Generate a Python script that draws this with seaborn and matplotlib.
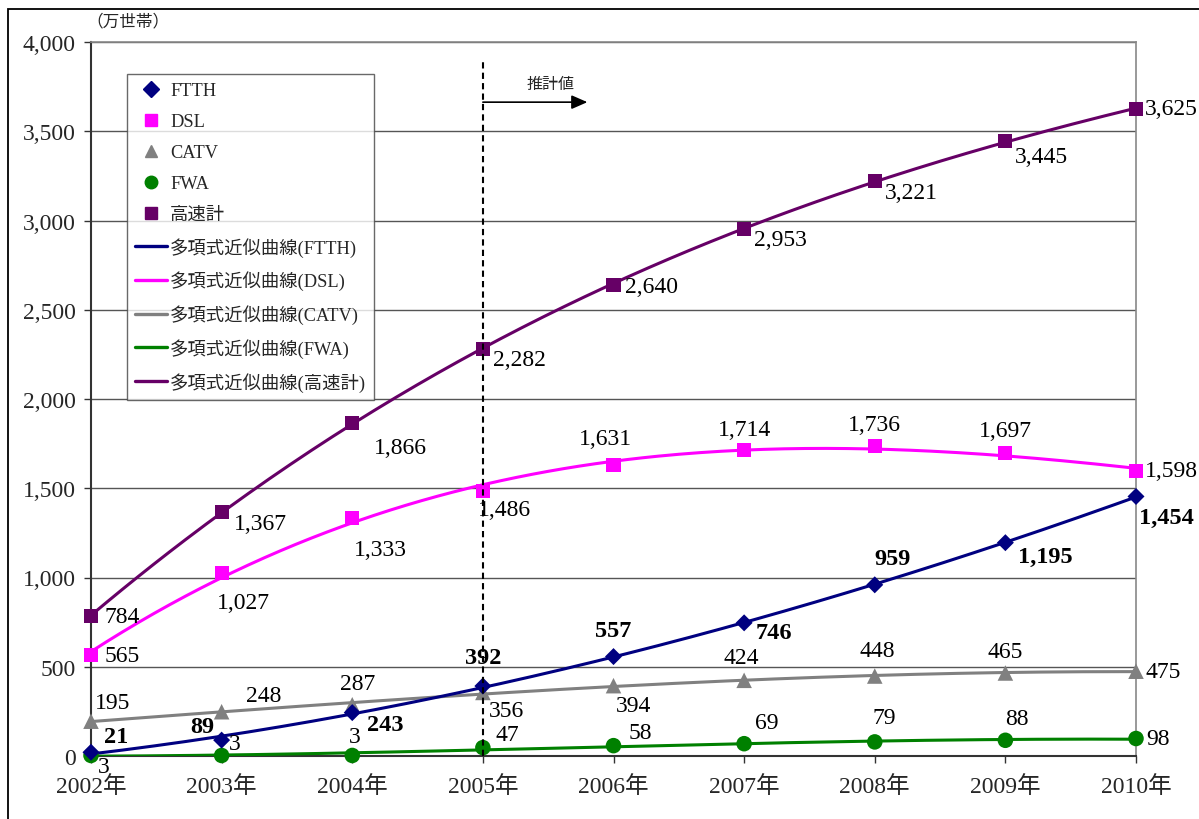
import numpy as np
import pandas as pd
import matplotlib
matplotlib.use("Agg")
import matplotlib.pyplot as plt
from matplotlib.lines import Line2D
from matplotlib.patches import Rectangle
import seaborn as sns

# ---- data (万世帯) ----
years = [2002, 2003, 2004, 2005, 2006, 2007, 2008, 2009, 2010]
year_labels = [f"{y}年" for y in years]
ftth = [21, 89, 243, 392, 557, 746, 959, 1195, 1454]
dsl = [565, 1027, 1333, 1486, 1631, 1714, 1736, 1697, 1598]
catv = [195, 248, 287, 356, 394, 424, 448, 465, 475]
fwa = [3, 3, 3, 47, 58, 69, 79, 88, 98]
total = [784, 1367, 1866, 2282, 2640, 2953, 3221, 3445, 3625]
y_ticks = [0, 500, 1000, 1500, 2000, 2500, 3000, 3500, 4000]
series_names = ["FTTH", "DSL", "CATV", "FWA", "高速計"]

sns.set_theme(style="white")
plt.rcParams["font.family"] = ["Liberation Serif", "Noto Sans CJK JP"]

colors = {"FTTH": "#000080", "DSL": "#FF00FF", "CATV": "#808080",
          "FWA": "#008000", "高速計": "#660066"}
markers = {"FTTH": "D", "DSL": "s", "CATV": "^", "FWA": "o", "高速計": "s"}
msize = {"FTTH": 75, "DSL": 105, "CATV": 125, "FWA": 125, "高速計": 105}

values = {"FTTH": ftth, "DSL": dsl, "CATV": catv, "FWA": fwa, "高速計": total}

fig = plt.figure(figsize=(11.99, 8.2), dpi=100)
ax = fig.add_axes([91 / 1199, 1 - 757 / 820, (1136 - 91) / 1199, (757 - 43) / 820])

# outer frame of the chart
fig.patches.append(Rectangle((8 / 1199, -0.01), 1.0, 1 - 10 / 820 + 0.01,
                             transform=fig.transFigure, fill=False,
                             edgecolor="black", linewidth=1.3, zorder=0))

# polynomial trend curves (3rd order fit of each series)
xs = np.linspace(years[0], years[-1], 200)
draw_order = ["CATV", "FWA", "DSL", "FTTH", "高速計"]
for name in draw_order:
    coef = np.polyfit(np.array(years) - 2002, values[name], 3)
    fit = pd.DataFrame({"x": xs, "y": np.polyval(coef, xs - 2002)})
    sns.lineplot(data=fit, x="x", y="y", ax=ax, color=colors[name],
                 linewidth=2.2, zorder=3)

for name in draw_order:
    df = pd.DataFrame({"x": years, "y": values[name]})
    sns.scatterplot(data=df, x="x", y="y", ax=ax, color=colors[name],
                    marker=markers[name], s=msize[name], edgecolor="none",
                    zorder=5, clip_on=False)

# value labels: offsets in pixels
L, C = "left", "center"
off_total = [(14, 0, L), (12, -12, L), (22, -25, L), (10, -11, L), (12, -2, L),
             (10, -11, L), (10, -11, L), (10, -15, L), (9, 0, L)]
off_dsl = [(14, 0, L), (22, -30, C), (28, -31, C), (22, -19, C), (-8, 26, C),
           (0, 21, C), (0, 22, C), (0, 23, C), (9, 0, L)]
off_ftth = [(25, 16, C), (-19, 14, C), (33, -12, C), (0, 29, C), (0, 26, C),
            (30, -10, C), (18, 26, C), (40, -14, C), (30, -21, C)]
off_catv = [(22, 19, C), (42, 16, C), (5, 21, C), (24, -18, C), (20, -20, C),
            (-3, 23, C), (2, 26, C), (0, 21, C), (10, 0, L)]
off_fwa = [(13, -11, C), (13, 12, C), (2, 19, C), (24, 13, C), (27, 13, C),
           (23, 21, C), (10, 24, C), (11, 22, C), (10, 0, L)]

label_sets = [("高速計", off_total, "normal", 17), ("DSL", off_dsl, "normal", 17),
              ("FTTH", off_ftth, "bold", 17.5), ("CATV", off_catv, "normal", 17),
              ("FWA", off_fwa, "normal", 17)]
for name, offs, weight, fs in label_sets:
    for x, v, (dx, dy, ha) in zip(years, values[name], offs):
        ax.annotate(f"{v:,}", (x, v), xytext=(dx, dy), textcoords="offset pixels",
                    ha=ha, va="center", fontsize=fs, fontweight=weight, color="black",
                    zorder=6, annotation_clip=False)

# forecast boundary and arrow
ax.plot([2005, 2005], [0, 3890], linestyle=(0, (3, 2)), color="black", linewidth=1.5, zorder=7)
ax.annotate("", xy=(2005.8, 3663), xytext=(2005, 3663),
            arrowprops=dict(arrowstyle="-|>,head_length=0.8,head_width=0.35",
                            color="black", linewidth=1.2, shrinkA=0, shrinkB=0), zorder=7)
ax.text(2005.52, 3770, "推計値", ha="center", va="center", fontsize=11.5,
        family=["Noto Sans CJK JP"], zorder=7)

# axes styling
ax.set_xlim(years[0], years[-1])
ax.set_ylim(0, 4000)
ax.set_xticks(years)
ax.set_xticklabels(year_labels, fontsize=17)
ax.set_yticks(y_ticks)
ax.set_yticklabels([f"{t:,}" for t in y_ticks], fontsize=17)
ax.set_xlabel("")
ax.set_ylabel("")
ax.yaxis.grid(True, color="#555555", linewidth=1.0)
ax.xaxis.grid(False)
ax.set_axisbelow(True)
ax.tick_params(axis="both", which="major", length=5, width=1, color="#333333",
               direction="out", bottom=True, left=True)
ax.tick_params(axis="x", pad=9)
ax.tick_params(axis="y", pad=6)
for side in ["left", "bottom"]:
    ax.spines[side].set_color("#333333")
    ax.spines[side].set_linewidth(1.5)
for side in ["top", "right"]:
    ax.spines[side].set_color("#888888")
    ax.spines[side].set_linewidth(1.2)

fig.text(86 / 1199, 1 - 22 / 820, "（万世帯）", fontsize=12, va="center", ha="left",
         family=["Noto Sans CJK JP"])

# legend
handles = []
for name in series_names:
    handles.append(Line2D([], [], linestyle="none", marker=markers[name], color=colors[name],
                          markersize=8 if name == "FTTH" else 9, label=name))
for name in series_names:
    handles.append(Line2D([], [], color=colors[name], linewidth=2.4,
                          label=f"多項式近似曲線({name})"))
leg = ax.legend(handles=handles, loc="upper left",
                bbox_to_anchor=((127 - 91) / 1045, (757 - 75) / 714),
                frameon=True, fancybox=False, edgecolor="#444444", fontsize=13.2,
                labelspacing=0.76, handlelength=1.75, handletextpad=0.15,
                borderpad=0.45, borderaxespad=0)
leg.get_frame().set_linewidth(1.0)
leg.set_zorder(8)
for t in leg.get_texts():
    t.set_family(["Liberation Serif", "Noto Sans CJK JP"])

fig.savefig("out.png", dpi=100, facecolor="white")
